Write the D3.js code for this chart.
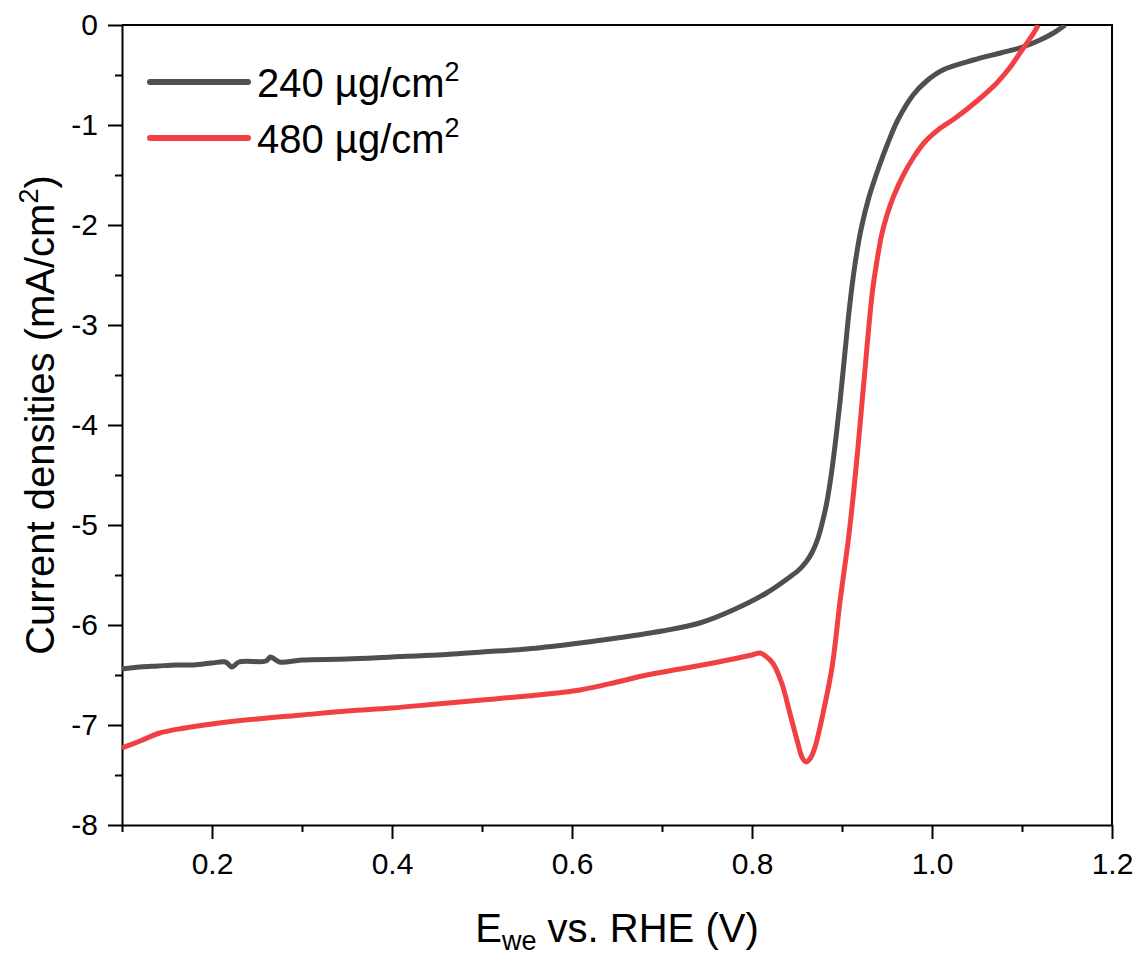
<!DOCTYPE html>
<html>
<head>
<meta charset="utf-8">
<script src="https://cdn.jsdelivr.net/npm/d3@7"></script>
<style>
  body { margin: 0; background: #fff; }
  svg { font-family: 'Liberation Sans', Arial, sans-serif; }
</style>
</head>
<body>
<div id="chart"></div>
<script>
// potential (V vs RHE) and current density (mA/cm2)
const seriesLabels = ['240', '480']
const seriesColors = ['#4f4f4f', '#f04044']

const potential240 = [0.100, 0.120, 0.140, 0.160, 0.180, 0.200, 0.215, 0.222, 0.230, 0.260, 0.265, 0.275, 0.300, 0.350, 0.400, 0.450, 0.500, 0.550, 0.600, 0.650, 0.700, 0.742, 0.779, 0.816, 0.842, 0.852, 0.860, 0.867, 0.873, 0.878, 0.883, 0.888, 0.893, 0.898, 0.903, 0.908, 0.914, 0.921, 0.930, 0.941, 0.951, 0.962, 0.979, 0.994, 1.012, 1.046, 1.076, 1.101, 1.120, 1.135, 1.148]
const current240 = [-6.44, -6.42, -6.41, -6.40, -6.40, -6.38, -6.37, -6.42, -6.37, -6.36, -6.32, -6.37, -6.35, -6.34, -6.32, -6.30, -6.27, -6.24, -6.19, -6.13, -6.06, -5.98, -5.85, -5.68, -5.52, -5.45, -5.37, -5.27, -5.14, -4.98, -4.78, -4.50, -4.15, -3.75, -3.30, -2.85, -2.42, -2.05, -1.72, -1.42, -1.18, -0.95, -0.70, -0.56, -0.45, -0.35, -0.28, -0.22, -0.15, -0.08, 0.0]

const potential480 = [0.100, 0.120, 0.142, 0.170, 0.200, 0.250, 0.300, 0.350, 0.400, 0.450, 0.500, 0.550, 0.609, 0.650, 0.683, 0.720, 0.757, 0.779, 0.800, 0.809, 0.815, 0.823, 0.833, 0.842, 0.850, 0.856, 0.860, 0.865, 0.870, 0.879, 0.889, 0.898, 0.907, 0.912, 0.918, 0.922, 0.926, 0.930, 0.934, 0.939, 0.944, 0.950, 0.957, 0.967, 0.979, 0.992, 1.008, 1.026, 1.050, 1.072, 1.087, 1.100, 1.113, 1.118]
const current480 = [-7.23, -7.16, -7.08, -7.03, -6.99, -6.94, -6.90, -6.86, -6.83, -6.79, -6.75, -6.71, -6.65, -6.57, -6.50, -6.44, -6.38, -6.34, -6.30, -6.28, -6.31, -6.38, -6.58, -6.88, -7.15, -7.33, -7.37, -7.33, -7.22, -6.88, -6.42, -5.75, -5.15, -4.75, -4.20, -3.80, -3.40, -3.00, -2.65, -2.35, -2.10, -1.90, -1.72, -1.52, -1.33, -1.17, -1.04, -0.93, -0.76, -0.58, -0.42, -0.25, -0.08, 0.0]

const xTicks = [0.2, 0.4, 0.6, 0.8, 1.0, 1.2]
const xMinorTicks = [0.1, 0.3, 0.5, 0.7, 0.9, 1.1]
const yTicks = [0, -1, -2, -3, -4, -5, -6, -7, -8]
const yMinorTicks = [-0.5, -1.5, -2.5, -3.5, -4.5, -5.5, -6.5, -7.5]

const width = 1141
const height = 956
const plotLeft = 122
const plotRight = 1112
const plotTop = 25
const plotBottom = 825

const series = [
  potential240.map((x, i) => [x, current240[i]]),
  potential480.map((x, i) => [x, current480[i]])
]

const x = d3.scaleLinear().domain([0.1, 1.2]).range([plotLeft, plotRight])
const y = d3.scaleLinear().domain([-8, 0]).range([plotBottom, plotTop])

const svg = d3.select('#chart')
  .append('svg')
  .attr('width', width)
  .attr('height', height)

svg.append('clipPath')
  .attr('id', 'plot-clip')
  .append('rect')
  .attr('x', plotLeft)
  .attr('y', plotTop)
  .attr('width', plotRight - plotLeft)
  .attr('height', plotBottom - plotTop)

// frame top and right
svg.append('path')
  .attr('d', `M${plotLeft},${plotTop}H${plotRight}V${plotBottom}`)
  .attr('fill', 'none')
  .attr('stroke', '#000')
  .attr('stroke-width', 2)

// x-axis
const xAxis = svg.append('g')
  .attr('transform', `translate(0, ${plotBottom})`)
  .call(d3.axisBottom(x).tickValues(xTicks).tickFormat(d => d.toFixed(1)).tickSize(14).tickSizeOuter(0).tickPadding(14))
xAxis.append('g')
  .call(d3.axisBottom(x).tickValues(xMinorTicks).tickFormat('').tickSize(7).tickSizeOuter(0))
  .select('.domain').remove()

// y-axis (plain hyphen for the minus sign, like the original)
const yAxis = svg.append('g')
  .attr('transform', `translate(${plotLeft}, 0)`)
  .call(d3.axisLeft(y).tickValues(yTicks).tickFormat(d => String(d)).tickSize(14).tickSizeOuter(0).tickPadding(10))
yAxis.append('g')
  .call(d3.axisLeft(y).tickValues(yMinorTicks).tickFormat('').tickSize(7).tickSizeOuter(0))
  .select('.domain').remove()

svg.selectAll('.domain, .tick line')
  .attr('stroke', '#000')
  .attr('stroke-width', 2)
svg.selectAll('.tick text')
  .attr('fill', '#000')
  .attr('font-size', 30)
  .attr('font-family', "'Liberation Sans', Arial, sans-serif")

// axis titles
const xTitle = svg.append('text')
  .attr('x', (plotLeft + plotRight) / 2)
  .attr('y', 942)
  .attr('text-anchor', 'middle')
  .attr('font-size', 40)
xTitle.append('tspan').text('E')
xTitle.append('tspan').attr('font-size', 27).attr('dy', 8).text('we')
xTitle.append('tspan').attr('dy', -8).text(' vs. RHE (V)')

const yTitle = svg.append('text')
  .attr('transform', `translate(54, ${(plotTop + plotBottom) / 2 - 10}) rotate(-90)`)
  .attr('text-anchor', 'middle')
  .attr('font-size', 40)
yTitle.append('tspan').text('Current densities (mA/cm')
yTitle.append('tspan').attr('font-size', 27).attr('dy', -16).text('2')
yTitle.append('tspan').attr('dy', 16).text(')')

// curves
const line = d3.line()
  .x(d => x(d[0]))
  .y(d => y(d[1]))
  .curve(d3.curveCatmullRom.alpha(0.5))

svg.append('g')
  .attr('clip-path', 'url(#plot-clip)')
  .selectAll('path')
  .data(series)
  .enter()
  .append('path')
  .attr('fill', 'none')
  .attr('stroke', (d, i) => seriesColors[i])
  .attr('stroke-width', 5)
  .attr('stroke-linejoin', 'round')
  .attr('d', line)

// legend
const legend = svg.append('g')
  .selectAll('g')
  .data(seriesLabels)
  .enter()
  .append('g')
  .attr('transform', (d, i) => `translate(150, ${82 + i * 56})`)

legend.append('line')
  .attr('x1', 0)
  .attr('x2', 98)
  .attr('stroke', (d, i) => seriesColors[i])
  .attr('stroke-width', 6)
  .attr('stroke-linecap', 'round')

const legendText = legend.append('text')
  .attr('x', 107)
  .attr('y', 15)
  .attr('font-size', 40)
legendText.append('tspan').text(d => `${d} \u00b5g/cm`)
legendText.append('tspan').attr('font-size', 27).attr('dy', -16).text('2')
</script>
</body>
</html>
